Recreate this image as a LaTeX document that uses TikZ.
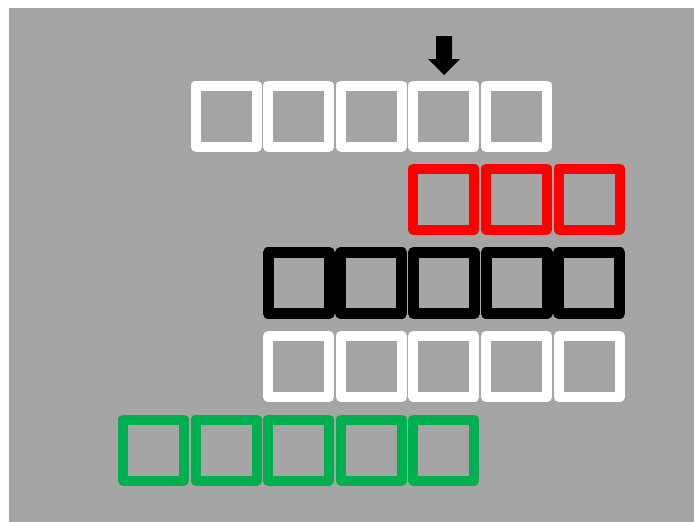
\documentclass[tikz,border=0pt]{standalone}
\usetikzlibrary{positioning}
\definecolor{bggray}{RGB}{165,165,165}
\definecolor{cellgreen}{RGB}{0,176,80}
\tikzset{
  cell/.style={draw, line width=10pt, line join=round, minimum size=61pt, inner sep=0pt}
}
\begin{document}
\begin{tikzpicture}[x=1pt,y=-1pt]
  % 背景
  \useasboundingbox (0,0) rectangle (694,522);
  \fill[white] (0,0) rectangle (694,522);
  \fill[bggray] (9,8) rectangle (694,522);
  % 第一行（白色）
  \node[cell, white] (w1) at (226.1,116) {};
  \node[cell, white] (w2) at (298.7,116) {};
  \node[cell, white] (w3) at (371.3,116) {};
  \node[cell, white] (w4) at (443.9,116) {};
  \node[cell, white] (w5) at (516.5,116) {};
  % 第二行（红色）
  \node[cell, red] (r1) at (443.9,199) {};
  \node[cell, red] (r2) at (516.5,199) {};
  \node[cell, red] (r3) at (589.1,199) {};
  % 第三行（黑色）
  \node[cell, black, line width=11pt] (k1) at (298.7,283) {};
  \node[cell, black, line width=11pt] (k2) at (371.3,283) {};
  \node[cell, black, line width=11pt] (k3) at (443.9,283) {};
  \node[cell, black, line width=11pt] (k4) at (516.5,283) {};
  \node[cell, black, line width=11pt] (k5) at (589.1,283) {};
  % 第四行（白色）
  \node[cell, white] (v1) at (298.7,366.5) {};
  \node[cell, white] (v2) at (371.3,366.5) {};
  \node[cell, white] (v3) at (443.9,366.5) {};
  \node[cell, white] (v4) at (516.5,366.5) {};
  \node[cell, white] (v5) at (589.1,366.5) {};
  % 第五行（绿色）
  \node[cell, cellgreen] (g1) at (153.5,450) {};
  \node[cell, cellgreen] (g2) at (226.1,450) {};
  \node[cell, cellgreen] (g3) at (298.7,450) {};
  \node[cell, cellgreen] (g4) at (371.3,450) {};
  \node[cell, cellgreen] (g5) at (443.9,450) {};
  % 指针箭头
  \coordinate (pointer) at (444,75);
  \fill[black] (pointer) -- ++(-16,-16) -- ++(8,0) -- ++(0,-23) -- ++(16,0)
    -- ++(0,23) -- ++(8,0) -- cycle;
\end{tikzpicture}
\end{document}
